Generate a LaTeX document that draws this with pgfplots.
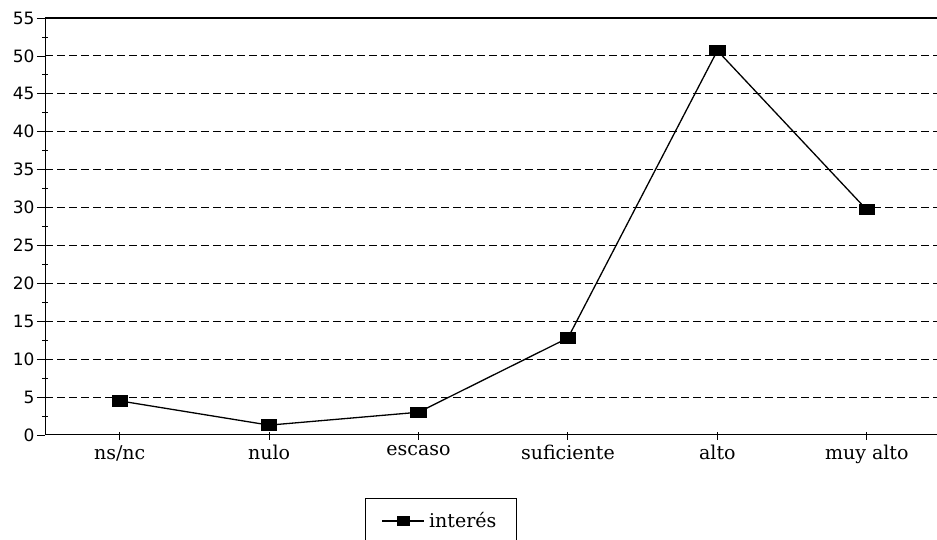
\documentclass[border=0pt]{standalone}
\usepackage{fontspec}
\setmainfont{DejaVu Serif}
\newfontfamily\ysans{DejaVu Sans}
\usepackage{pgfplots}
\pgfplotsset{compat=1.18}

\begin{document}
\begin{tikzpicture}[x=1pt,y=1pt]
\path[use as bounding box] (0,0) rectangle (937,540);
\begin{axis}[
  at={(45pt,105pt)}, anchor=south west,
  scale only axis,
  width=892pt, height=417pt,
  xmin=-0.5, xmax=5.47,
  ymin=0, ymax=55,
  axis x line*=bottom,
  axis y line*=left,
  axis line style={line width=1pt, -},
  xtick={0,1,2,3,4,5},
  xticklabels={ns/nc,nulo,escaso,suficiente,alto,muy alto},
  xticklabel style={font=\fontsize{19}{22}\selectfont, yshift=1pt},
  ytick={0,5,...,55},
  minor ytick={2.5,7.5,...,52.5},
  yticklabel style={font=\ysans\fontsize{17}{20}\selectfont, xshift=1pt},
  /pgf/number format/assume math mode=true,
  tick align=outside,
  major tick length=8pt,
  minor tick length=5pt,
  xtick style={line width=1pt, yshift=3pt, black},
  ytick style={line width=0.8pt, black},
  minor tick style={line width=0.8pt, xshift=2.5pt},
  ymajorgrids,
  major grid style={black, line width=1pt, dash pattern=on 8pt off 4pt},
  clip=false,
  legend style={
    at={(0.444,-0.152)}, anchor=north,
    draw=black, line width=0.8pt,
    inner xsep=16pt, inner ysep=12pt,
    font=\fontsize{19}{22}\selectfont,
    legend cell align=left,
    nodes={inner xsep=4pt},
  },
  legend image code/.code={
    \draw[line width=1.3pt] (0pt,0pt) -- (42pt,0pt);
    \fill (15pt,-4pt) rectangle (27pt,4pt);
  },
  after end axis/.code={
    \draw[line width=1.2pt] (rel axis cs:0,1) -- (rel axis cs:1,1);
  },
]
\addplot[black, line width=1.3pt, mark=square*,
  mark options={solid, xscale=1.5}, mark size=5pt]
  coordinates {(0,4.5) (1,1.3) (2,3.0) (3,12.8) (4,50.7) (5,29.7)};
\addlegendentry{interés}
\end{axis}
\end{tikzpicture}
\end{document}
